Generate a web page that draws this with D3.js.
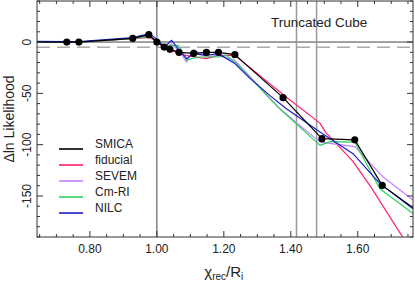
<!DOCTYPE html>
<html>
<head>
<meta charset="utf-8">
<script src="https://cdn.jsdelivr.net/npm/d3@7"></script>
<style>
  body { margin: 0; background: #fff; }
  svg { display: block; font-family: "Liberation Sans", Arial, sans-serif; }
</style>
</head>
<body>
<svg id="chart" width="415" height="283"></svg>
<script>
// series values: [chi_rec/R_i, delta ln L]
var smica = [[0.642, 0], [0.731, 0], [0.767, 0], [0.928, 3.6], [0.976, 7.2], [1.000, 0], [1.022, -4.9],
    [1.039, -7.1], [1.066, -10], [1.110, -11], [1.148, -10], [1.184, -10], [1.233, -12.3],
    [1.377, -54.2], [1.493, -94.2], [1.591, -95.3], [1.673, -139.7], [1.765, -161.4]];
var smicaDots = smica.slice(1, -1);
var fiducial = [[0.642, 0], [0.731, 0], [0.767, 0], [0.928, 3.3], [0.979, 4.6], [1.000, 0], [1.021, -5],
    [1.069, -11.3], [1.087, -13], [1.113, -14.6], [1.148, -16.2], [1.183, -13], [1.233, -13],
    [1.388, -54], [1.487, -79], [1.504, -88], [1.585, -116], [1.640, -141.6], [1.734, -190], [1.765, -205]];
var sevem = [[0.642, 0], [0.731, 0], [0.767, 0], [0.928, 3.5], [0.979, 6], [1.000, 1], [1.022, -5],
    [1.044, -2], [1.067, -9], [1.089, -19.5], [1.109, -7.4], [1.148, -14.6], [1.183, -13], [1.233, -17.8],
    [1.367, -65], [1.487, -97.5], [1.591, -102], [1.676, -131.6], [1.765, -154]];
var cmri = [[0.642, 0], [0.731, 0], [0.767, 0], [0.928, 3.5], [0.979, 5.5], [1.000, 1.5], [1.022, -4],
    [1.064, -3.2], [1.089, -17.8], [1.118, -14.6], [1.183, -14.6], [1.208, -13], [1.248, -24],
    [1.347, -58.5], [1.377, -68], [1.487, -100.7], [1.517, -97], [1.591, -97.5], [1.666, -143], [1.765, -167]];
var nilc = [[0.642, 0.7], [0.731, 0.5], [0.767, 0.5], [0.928, 4.3], [0.979, 8.2], [1.000, 2.6], [1.022, -4.9],
    [1.044, 1.7], [1.067, -8.1], [1.089, -16.2], [1.108, -11.3], [1.148, -13], [1.183, -11.3], [1.233, -21],
    [1.278, -35.4], [1.337, -52], [1.387, -65], [1.487, -87.7], [1.586, -108.8], [1.666, -138], [1.765, -162.4]];

var seriesNames = ['SMICA', 'fiducial', 'SEVEM', 'Cm-RI', 'NILC'];
var seriesColors = ['#000000', '#ff1f68', '#c77dff', '#2fcf5f', '#1c1cc8'];
var seriesData = [smica, fiducial, sevem, cmri, nilc];

var xMajor = [0.80, 1.00, 1.20, 1.40, 1.60];
var yMajor = [0, -50, -100, -150];
var vLines = [1.417, 1.477];

var margin = { top: 1, left: 37, right: 2, bottom: 46 },
    W = 415, H = 283,
    w = W - margin.left - margin.right,
    h = H - margin.top - margin.bottom;

var svg = d3.select('#chart');
var g = svg.append('g').attr('transform', 'translate(' + margin.left + ',' + margin.top + ')');

var x = d3.scaleLinear().domain([0.642, 1.765]).range([0, w]);
var y = d3.scaleLinear().domain([-190, 40]).range([h, 0]);

g.append('clipPath').attr('id', 'clip')
    .append('rect').attr('width', w).attr('height', h);

var plot = g.append('g').attr('clip-path', 'url(#clip)');

// reference lines
plot.append('line')
    .attr('x1', 0).attr('x2', w)
    .attr('y1', y(-5)).attr('y2', y(-5))
    .attr('stroke', '#aaaaaa').attr('stroke-width', 1.5)
    .attr('stroke-dasharray', '13,7');
plot.append('line')
    .attr('x1', 0).attr('x2', w)
    .attr('y1', y(0)).attr('y2', y(0))
    .attr('stroke', '#444').attr('stroke-width', 1);
plot.append('line')
    .attr('x1', x(1)).attr('x2', x(1))
    .attr('y1', 0).attr('y2', h)
    .attr('stroke', '#444').attr('stroke-width', 1);
plot.selectAll('.vref').data(vLines).enter().append('line')
    .attr('class', 'vref')
    .attr('x1', d => x(d)).attr('x2', d => x(d))
    .attr('y1', 0).attr('y2', h)
    .attr('stroke', '#999').attr('stroke-width', 1.5);

var line = d3.line().x(d => x(d[0])).y(d => y(d[1]));

// draw order: coloured series first, SMICA on top
[1, 2, 3, 4, 0].forEach(function (i) {
    plot.append('path')
        .datum(seriesData[i])
        .attr('d', line)
        .attr('fill', 'none')
        .attr('stroke', seriesColors[i])
        .attr('stroke-width', 1.2)
        .attr('stroke-linejoin', 'round');
});

plot.selectAll('.dot').data(smicaDots).enter().append('circle')
    .attr('class', 'dot')
    .attr('cx', d => x(d[0]))
    .attr('cy', d => y(d[1]))
    .attr('r', 3.6)
    .attr('fill', '#000');

// frame
g.append('rect').attr('width', w).attr('height', h)
    .attr('fill', 'none').attr('stroke', '#333').attr('stroke-width', 1);

// ticks (inward, on all four sides)
var xMinor = d3.range(0.65, 1.76, 0.05).map(v => +v.toFixed(2));
var yMinor = d3.range(-190, 41, 10);
function isMajorX(v) { return Math.abs(v * 5 - Math.round(v * 5)) < 1e-6; }
function isMajorY(v) { return v % 50 === 0; }

var ticks = g.append('g').attr('stroke', '#333').attr('stroke-width', 1);
xMinor.forEach(function (v) {
    var len = isMajorX(v) ? 6 : 3;
    ticks.append('line').attr('x1', x(v)).attr('x2', x(v)).attr('y1', h).attr('y2', h - len);
    ticks.append('line').attr('x1', x(v)).attr('x2', x(v)).attr('y1', 0).attr('y2', len);
});
yMinor.forEach(function (v) {
    var len = isMajorY(v) ? 6 : 3;
    ticks.append('line').attr('y1', y(v)).attr('y2', y(v)).attr('x1', 0).attr('x2', len);
    ticks.append('line').attr('y1', y(v)).attr('y2', y(v)).attr('x1', w).attr('x2', w - len);
});

// tick labels
g.selectAll('.xlab').data(xMajor).enter().append('text')
    .attr('class', 'xlab')
    .attr('x', d => x(d))
    .attr('y', h + 16)
    .attr('text-anchor', 'middle')
    .attr('font-size', 12)
    .attr('fill', '#222')
    .text(d => d.toFixed(2));

g.selectAll('.ylab').data(yMajor).enter().append('text')
    .attr('class', 'ylab')
    .attr('transform', d => 'translate(-6,' + y(d) + ') rotate(-90)')
    .attr('text-anchor', 'middle')
    .attr('font-size', 12)
    .attr('fill', '#222')
    .text(d => d);

// axis titles
svg.append('text')
    .attr('transform', 'translate(14,' + (margin.top + h / 2) + ') rotate(-90)')
    .attr('text-anchor', 'middle')
    .attr('font-size', 14)
    .attr('fill', '#222')
    .text('\u0394ln Likelihood');

var xt = svg.append('text')
    .attr('x', margin.left + x(1.2))
    .attr('y', 277)
    .attr('text-anchor', 'middle')
    .attr('font-size', 15)
    .attr('fill', '#222');
xt.append('tspan').text('\u03c7');
xt.append('tspan').attr('font-size', 10).attr('dy', 3).text('rec');
xt.append('tspan').attr('dy', -3).text('/R');
xt.append('tspan').attr('font-size', 10).attr('dy', 3).text('i');

g.append('text')
    .attr('x', 234)
    .attr('y', 26)
    .attr('font-size', 13.5)
    .attr('fill', '#222')
    .text('Truncated Cube');

// legend
var leg = g.append('g').attr('transform', 'translate(22,148)');
seriesNames.forEach(function (name, i) {
    var row = leg.append('g').attr('transform', 'translate(0,' + (i * 16) + ')');
    row.append('line').attr('x1', 0).attr('x2', 24).attr('y1', 0).attr('y2', 0)
        .attr('stroke', seriesColors[i]).attr('stroke-width', 1.6);
    row.append('text').attr('x', 36).attr('y', -1)
        .attr('font-size', 12).attr('fill', '#222').text(name);
});
</script>
</body>
</html>
